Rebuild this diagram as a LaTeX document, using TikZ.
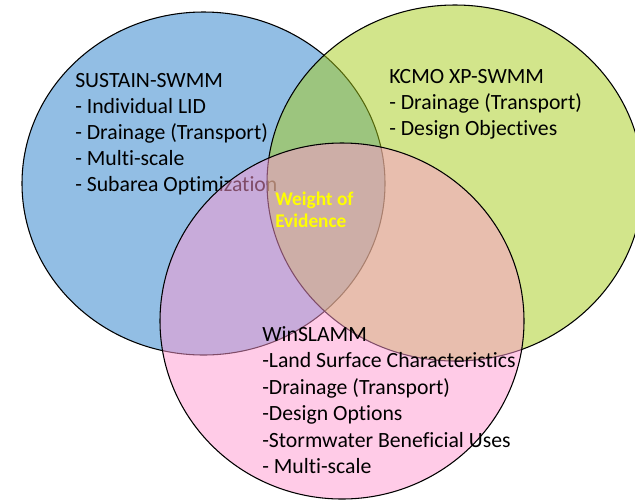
\documentclass[tikz,border=0pt]{standalone}
\usepackage{fontspec}
\setmainfont[Ligatures=NoCommon]{Carlito}
\usepackage{tikz}

\definecolor{sustainblue}{RGB}{146,190,228}
\definecolor{kcmogreen}{RGB}{167,205,25}
\definecolor{slammpink}{RGB}{255,153,209}
\definecolor{woeyellow}{RGB}{255,255,0}

\begin{document}
\begin{tikzpicture}[x=0.75pt,y=-0.75pt,
  venn/.style={draw=black, line width=0.8pt},
  listtext/.style={anchor=north west, align=left, inner sep=0pt,
    font=\fontsize{16.3}{19.5}\selectfont}]
\clip (0,0) rectangle (635,501);
\fill[white] (0,0) rectangle (635,501);

% SUSTAIN-SWMM
  \draw[venn, fill=sustainblue] (203.5,183.5) ellipse [x radius=181.5, y radius=171.5];
  \node[listtext] (sustain) at (75,73.5) {SUSTAIN-SWMM\\- Individual LID\\- Drainage (Transport)\\- Multi-scale\\- Subarea Optimization};

% KCMO XP-SWMM
  \draw[venn, fill=kcmogreen, fill opacity=0.5] (455,183) ellipse [x radius=188, y radius=178];
  \node[listtext] (kcmo) at (389,69) {KCMO XP-SWMM\\- Drainage (Transport)\\- Design Objectives};

% WinSLAMM
  \draw[venn, fill=slammpink, fill opacity=0.5] (342,321) ellipse [x radius=182, y radius=178];
  \node[listtext, font=\fontsize{16.3}{19.9}\selectfont] (slamm) at (262,326) {WinSLAMM\\-Land Surface Characteristics\\-Drainage (Transport)\\-Design Options\\-Stormwater Beneficial Uses\\- Multi-scale};

% overlap of all three
  \node[listtext, font=\bfseries\fontsize{14.5}{16.5}\selectfont, text=woeyellow] (woe) at (275,192) {Weight of\\Evidence};

\end{tikzpicture}
\end{document}
